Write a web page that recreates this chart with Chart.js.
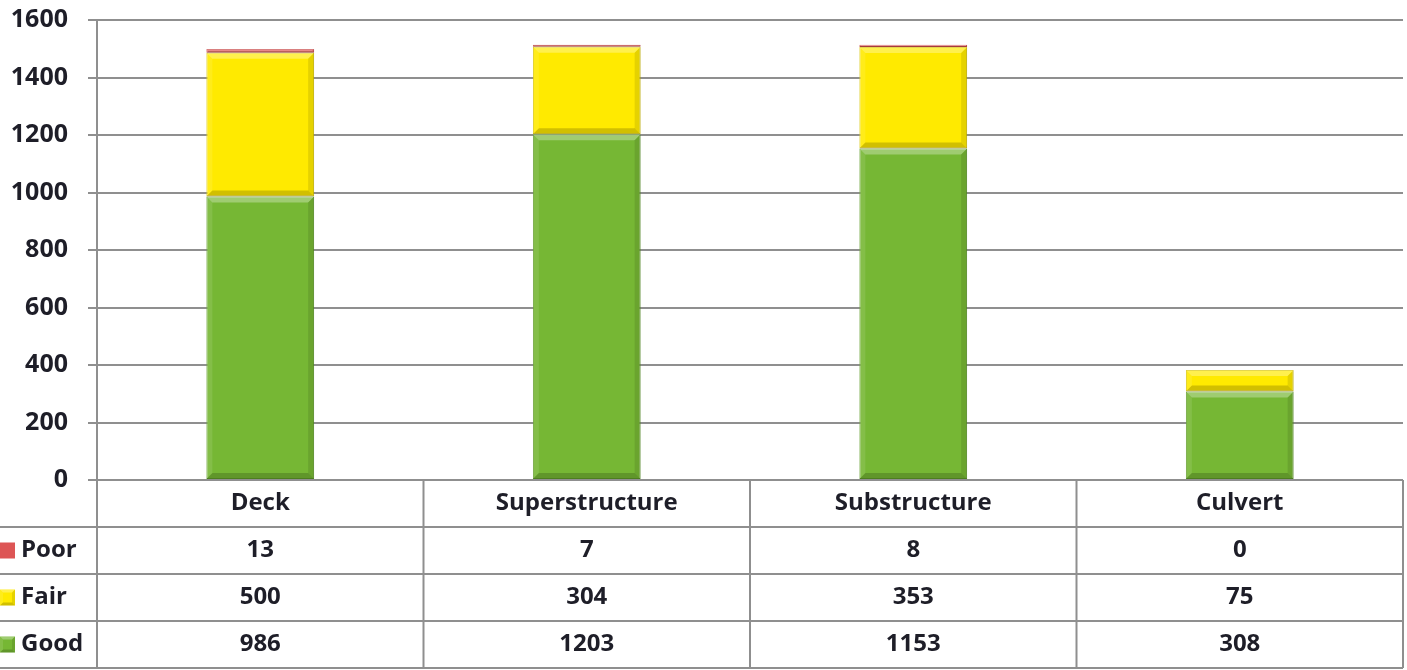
<!DOCTYPE html>
<html>
<head>
<meta charset="utf-8">
<script src="https://cdn.jsdelivr.net/npm/chart.js@4/dist/chart.umd.min.js"></script>
<style>
  html, body { margin: 0; padding: 0; background: #ffffff; }
  #wrap { width: 1407px; height: 670px; position: relative; }
</style>
</head>
<body>
<div id="wrap"><canvas id="c" width="1407" height="670"></canvas></div>
<script>
const categories = ["Deck", "Superstructure", "Substructure", "Culvert"];
const poor = [13, 7, 8, 0];
const fair = [500, 304, 353, 75];
const good = [986, 1203, 1153, 308];
const yTicks = [0, 200, 400, 600, 800, 1000, 1200, 1400, 1600];

const FONT = "'Open Sans', 'DejaVu Sans', sans-serif";
const TEXT = "#1e1e28";
const LINE = "#8f8f8f";
const COLORS = { Poor: "#dd5555", Fair: "#ffea00", Good: "#76b734" };

const seriesRows = [
  { label: "Poor", data: poor },
  { label: "Fair", data: fair },
  { label: "Good", data: good }
];

function bevel(ctx, l, t, r, bt, b) {
  const poly = (pts, fill) => {
    ctx.beginPath();
    ctx.moveTo(pts[0][0], pts[0][1]);
    for (let i = 1; i < pts.length; i++) ctx.lineTo(pts[i][0], pts[i][1]);
    ctx.closePath();
    ctx.fillStyle = fill;
    ctx.fill();
  };
  poly([[l, t], [r, t], [r - b, t + b], [l + b, t + b]], "rgba(255,255,255,0.30)");
  poly([[l, t], [l + b, t + b], [l + b, bt - b], [l, bt]], "rgba(255,255,255,0.10)");
  poly([[r, t], [r - b, t + b], [r - b, bt - b], [r, bt]], "rgba(0,0,0,0.10)");
  poly([[l, bt], [l + b, bt - b], [r - b, bt - b], [r, bt]], "rgba(0,0,0,0.18)");
}

const bevelPlugin = {
  id: "bevel",
  afterDatasetsDraw(chart) {
    const ctx = chart.ctx;
    ctx.save();
    chart.data.datasets.forEach((ds, di) => {
      const meta = chart.getDatasetMeta(di);
      meta.data.forEach((el) => {
        const p = el.getProps(["x", "y", "base", "width"], true);
        const top = Math.min(p.y, p.base), bot = Math.max(p.y, p.base);
        const h = bot - top;
        if (h < 0.5) return;
        const l = p.x - p.width / 2, r = p.x + p.width / 2;
        const b = Math.min(6, h / 2);
        bevel(ctx, l, top, r, bot, b);
      });
    });
    ctx.restore();
  }
};

const tablePlugin = {
  id: "dataTable",
  afterDraw(chart) {
    const ctx = chart.ctx;
    const area = chart.chartArea;
    const xs = chart.scales.x;
    const L = area.left, R = area.right, B = area.bottom;
    const rowH = 47;
    const n = categories.length;
    const step = (R - L) / n;
    ctx.save();
    ctx.strokeStyle = LINE;
    ctx.lineWidth = 2;
    ctx.beginPath();
    ctx.moveTo(L, B); ctx.lineTo(R, B);
    for (let k = 1; k <= 4; k++) {
      const y = B + rowH * k;
      ctx.moveTo(0, y); ctx.lineTo(R, y);
    }
    for (let i = 0; i <= n; i++) {
      const x = i < n ? xs.getPixelForValue(i) - step / 2 : xs.getPixelForValue(n - 1) + step / 2;
      ctx.moveTo(x, B); ctx.lineTo(x, B + rowH * 4);
    }
    ctx.stroke();

    ctx.fillStyle = TEXT;
    ctx.font = "bold 24px " + FONT;
    ctx.textAlign = "center";
    ctx.textBaseline = "middle";
    categories.forEach((c, i) => {
      ctx.fillText(c, xs.getPixelForValue(i), B + rowH / 2);
    });
    seriesRows.forEach((s, ri) => {
      const yc = B + rowH * (ri + 1) + rowH / 2;
      ctx.fillStyle = TEXT;
      ctx.textAlign = "center";
      s.data.forEach((v, i) => {
        ctx.fillText(String(v), xs.getPixelForValue(i), yc);
      });
      ctx.fillStyle = COLORS[s.label];
      ctx.fillRect(0, yc - 8, 15, 16);
      if (s.label !== "Poor") bevel(ctx, 0, yc - 8, 15, yc + 8, 3);
      ctx.fillStyle = TEXT;
      ctx.textAlign = "left";
      ctx.fillText(s.label, 21, yc);
    });
    ctx.restore();
  }
};

new Chart(document.getElementById("c"), {
  type: "bar",
  data: {
    labels: categories,
    datasets: [
      { label: "Good", data: good, backgroundColor: COLORS.Good, borderColor: "#5f9a28", borderWidth: 1, borderSkipped: false },
      { label: "Fair", data: fair, backgroundColor: COLORS.Fair, borderColor: "#d8c400", borderWidth: 1, borderSkipped: false },
      { label: "Poor", data: poor, backgroundColor: COLORS.Poor, borderColor: "#c94a4a", borderWidth: 1, borderSkipped: false }
    ]
  },
  options: {
    responsive: false,
    animation: false,
    devicePixelRatio: 1,
    layout: { padding: { top: 20, right: 4, bottom: 190, left: 0 } },
    plugins: { legend: { display: false }, tooltip: { enabled: false } },
    datasets: { bar: { categoryPercentage: 1.0, barPercentage: 0.33 } },
    scales: {
      x: {
        stacked: true,
        display: false
      },
      y: {
        stacked: true,
        min: 0,
        max: 1600,
        afterBuildTicks(scale) { scale.ticks = yTicks.map(v => ({ value: v })); },
        afterFit(scale) { scale.width = 97; scale.paddingTop = 0; scale.paddingBottom = 0; },
        ticks: {
          color: TEXT,
          padding: 20,
          font: { family: FONT, size: 25, weight: "bold" },
          callback: (v) => String(v)
        },
        grid: { color: LINE, lineWidth: 2, tickLength: 9, drawTicks: true },
        border: { display: true, color: LINE, width: 2 }
      }
    }
  },
  plugins: [bevelPlugin, tablePlugin]
});
</script>
</body>
</html>
